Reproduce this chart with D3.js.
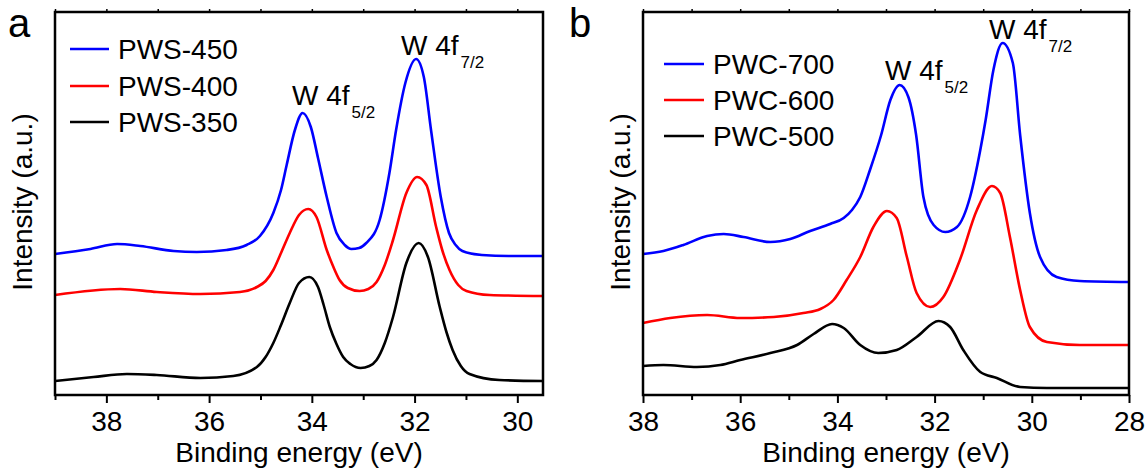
<!DOCTYPE html>
<html>
<head>
<meta charset="utf-8">
<script src="https://cdn.jsdelivr.net/npm/d3@7"></script>
<style>
  body { margin: 0; background: #fff; }
  svg { display: block; font-family: "Liberation Sans", Arial, sans-serif; }
</style>
</head>
<body>
<svg id="chart" width="1148" height="469"></svg>
<script>
// binding energy (eV), intensity (a.u.)
var pws450 = [[39.0,141],[38.31,146],[37.79,151],[37.34,149],[36.69,144],[36.24,143],[35.66,145],[35.27,150],[35.01,159],[34.75,182],[34.6,205],[34.49,230],[34.33,265],[34.18,282],[34.02,268],[33.88,237],[33.71,198],[33.52,162],[33.36,150],[33.23,146],[33.08,147],[32.94,152],[32.68,175],[32.49,222],[32.36,265],[32.18,312],[31.97,336],[31.82,318],[31.68,265],[31.49,198],[31.33,162],[31.2,150],[31.07,144],[30.69,140],[30.17,139],[29.5,139]];
var pws400 = [[39.0,100],[37.73,106],[37.02,103],[36.17,101],[35.40,103],[35.07,108],[34.9,114],[34.75,125],[34.6,142],[34.43,162],[34.25,180],[34.07,186],[33.91,178],[33.71,145],[33.58,128],[33.46,115],[33.3,107],[33.07,104],[32.9,106],[32.74,113],[32.58,130],[32.42,155],[32.16,202],[31.95,218],[31.77,210],[31.58,168],[31.45,143],[31.32,125],[31.15,110],[30.99,104],[30.54,100],[29.5,99]];
var pws350 = [[39.0,14],[38.25,18],[37.6,21],[37.02,20],[36.17,17],[35.53,19],[35.07,28],[34.9,38],[34.75,52],[34.6,70],[34.43,92],[34.25,112],[34.05,118],[33.88,108],[33.77,90],[33.65,68],[33.52,51],[33.39,38],[33.25,31],[33.05,27],[32.88,29],[32.74,35],[32.58,52],[32.42,78],[32.16,132],[31.92,152],[31.74,138],[31.51,88],[31.38,63],[31.26,45],[31.1,29],[30.93,21],[30.35,15],[29.5,14]];

var pwc700 = [[38.0,141],[37.58,144],[37.17,150],[36.68,159],[36.34,161],[35.93,158],[35.38,153],[34.97,156],[34.56,164],[34.15,171],[33.87,177],[33.7,185],[33.53,198],[33.33,225],[33.10,260],[32.91,295],[32.72,310],[32.54,298],[32.38,260],[32.23,198],[32.02,170],[31.78,163],[31.54,168],[31.27,198],[31.06,245],[30.95,275],[30.79,325],[30.60,352],[30.39,332],[30.24,260],[30.04,182],[29.83,138],[29.49,118],[29.01,114],[28.0,113]];
var pwc600 = [[38.0,72],[37.44,77],[36.68,80],[36.0,77],[35.31,78],[34.70,82],[34.35,86],[34.08,95],[33.81,115],[33.53,138],[33.26,168],[32.98,184],[32.78,177],[32.57,138],[32.37,102],[32.09,88],[31.82,98],[31.48,135],[31.13,185],[30.82,209],[30.65,202],[30.45,158],[30.24,105],[30.04,68],[29.69,53],[29.01,50],[28.0,50]];
var pwc500 = [[38.0,29],[37.58,30],[36.89,28],[36.41,30],[36.0,35],[35.38,42],[34.83,50],[34.49,61],[34.11,71],[33.87,67],[33.53,50],[33.16,42],[32.78,45],[32.37,58],[31.92,74],[31.68,68],[31.41,45],[31.06,23],[30.72,17],[30.24,8],[29.69,7],[28.0,7]];

var colors = ["#0000ff", "#ff0000", "#000000"];
var namesA = ["PWS-450", "PWS-400", "PWS-350"];
var namesB = ["PWC-700", "PWC-600", "PWC-500"];
var majorA = [38, 36, 34, 32, 30], minorA = [39, 37, 35, 33, 31];
var majorB = [38, 36, 34, 32, 30, 28], minorB = [37, 35, 33, 31, 29];

var svg = d3.select("#chart");
var top_y = 12, bottom_y = 395;
var fs = 28;

var yScale = d3.scaleLinear().domain([0, 383]).range([bottom_y, top_y]);

function drawPanel(p) {
  var x = d3.scaleLinear().domain(p.domain).range(p.range);
  var g = svg.append("g");

  // curves (data goes high -> low energy, i.e. left -> right on screen)
  var line = d3.line()
    .x(function (d) { return x(d[0]); })
    .y(function (d) { return yScale(d[1]); })
    .curve(d3.curveMonotoneX);
  p.series.forEach(function (s, i) {
    g.append("path")
      .datum(s)
      .attr("d", line)
      .attr("fill", "none")
      .attr("stroke", colors[i])
      .attr("stroke-width", 2.6)
      .attr("stroke-linejoin", "round");
  });

  // bottom axis, major + minor
  var bx = g.append("g")
    .attr("transform", "translate(0," + bottom_y + ")")
    .call(d3.axisBottom(x).tickValues(p.major).tickSize(8).tickPadding(8).tickFormat(d3.format("d")));
  bx.select(".domain").remove();
  bx.selectAll("line").attr("stroke-width", 2);
  bx.selectAll("text").attr("font-size", fs).attr("font-family", "Liberation Sans, Arial, sans-serif").attr("fill", "#000");
  var bm = g.append("g")
    .attr("transform", "translate(0," + bottom_y + ")")
    .call(d3.axisBottom(x).tickValues(p.minor).tickSize(5).tickFormat(""));
  bm.select(".domain").remove();
  bm.selectAll("line").attr("stroke-width", 2);

  // small ticks on top edge
  var tx = g.append("g")
    .attr("transform", "translate(0," + top_y + ")")
    .call(d3.axisTop(x).tickValues(p.major.concat(p.minor)).tickSize(3).tickFormat(""));
  tx.select(".domain").remove();
  tx.selectAll("line").attr("stroke-width", 1.5);

  // frame
  g.append("rect")
    .attr("x", p.range[0]).attr("y", top_y)
    .attr("width", p.range[1] - p.range[0]).attr("height", bottom_y - top_y)
    .attr("fill", "none").attr("stroke", "#000").attr("stroke-width", 2.5);

  // axis labels
  g.append("text")
    .attr("x", (p.range[0] + p.range[1]) / 2).attr("y", 462)
    .attr("text-anchor", "middle").attr("font-size", fs)
    .text("Binding energy (eV)");
  g.append("text")
    .attr("transform", "translate(" + p.ylabX + ",202) rotate(-90)")
    .attr("text-anchor", "middle").attr("font-size", fs)
    .text("Intensity (a.u.)");

  // panel letter
  g.append("text")
    .attr("x", p.letter[0]).attr("y", p.letter[1])
    .attr("font-size", 40)
    .text(p.letter[2]);

  ////////////LEGEND////////////////
  p.names.forEach(function (n, i) {
    var ly = p.legend.y[i];
    g.append("line")
      .attr("x1", p.legend.x1).attr("x2", p.legend.x2)
      .attr("y1", ly).attr("y2", ly)
      .attr("stroke", colors[i]).attr("stroke-width", 2.6);
    g.append("text")
      .attr("x", p.legend.tx).attr("y", ly + 10)
      .attr("font-size", fs)
      .text(n);
  });

  // peak annotations
  p.notes.forEach(function (a) {
    var t = g.append("text").attr("x", a[0]).attr("y", a[1]).attr("font-size", fs);
    t.append("tspan").text("W 4f");
    t.append("tspan").attr("font-size", 17).attr("dx", 2).attr("dy", 13).text(a[2]);
  });
}

drawPanel({
  domain: [39, 29.5], range: [55, 543],
  series: [pws450, pws400, pws350], names: namesA,
  major: majorA, minor: minorA,
  ylabX: 32, letter: [8, 37, "a"],
  legend: { x1: 70, x2: 109, tx: 118, y: [49, 86, 122] },
  notes: [[292, 105, "5/2"], [401, 55, "7/2"]]
});

drawPanel({
  domain: [38, 28], range: [643, 1129],
  series: [pwc700, pwc600, pwc500], names: namesB,
  major: majorB, minor: minorB,
  ylabX: 630, letter: [569, 37, "b"],
  legend: { x1: 664, x2: 704, tx: 713, y: [64, 100, 136] },
  notes: [[885, 80, "5/2"], [989, 39, "7/2"]]
});
</script>
</body>
</html>
